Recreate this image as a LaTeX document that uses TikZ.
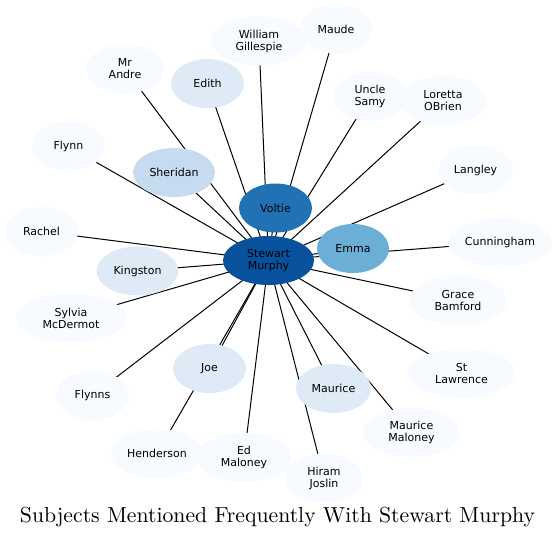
\documentclass[tikz,border=0pt]{standalone}
\usepackage{fontspec}
\newfontfamily\nodefont{DejaVu Sans}
\usetikzlibrary{shapes.geometric,backgrounds}
\definecolor{cvl}{HTML}{F7FBFF}
\definecolor{cl}{HTML}{DEEBF7}
\definecolor{cm}{HTML}{C6DBEF}
\definecolor{cemma}{HTML}{6BAED6}
\definecolor{cvolt}{HTML}{2171B5}
\definecolor{cstew}{HTML}{08519C}
\tikzset{
  bub/.style={ellipse, draw=none, inner sep=0pt, minimum height=49pt, minimum width=73pt,
    font=\nodefont\fontsize{11}{12}\selectfont, align=center, text=black, fill=cvl},
  link/.style={line width=1pt, black},
}
\begin{document}
\begin{tikzpicture}[x=1pt,y=-1pt]
\useasboundingbox (0,0) rectangle (556,539);
\node[bub, fill=cstew, minimum width=91pt] (s) at (268.5,260.5) {Stewart\\Murphy};
\node[bub, fill=cvolt] (voltie) at (275.5,208) {Voltie};
\node[bub, fill=cemma, minimum width=72pt] (emma) at (353,248.5) {Emma};
\node[bub, minimum width=96pt] (william) at (259,41) {William\\Gillespie};
\node[bub, minimum width=72pt] (maude) at (336,29) {Maude};
\node[bub, minimum width=78pt] (andre) at (125,69) {Mr\\Andre};
\node[bub, fill=cl] (edith) at (207.5,83.5) {Edith};
\node[bub, minimum width=74pt] (samy) at (370,96.5) {Uncle\\Samy};
\node[bub, minimum width=86pt] (loretta) at (443,100.5) {Loretta\\OBrien};
\node[bub, minimum width=75pt] (langley) at (475.5,170) {Langley};
\node[bub] (flynn) at (68.5,146.5) {Flynn};
\node[bub, fill=cm, minimum width=82pt] (sheridan) at (174,172.5) {Sheridan};
\node[bub] (rachel) at (41.5,231.5) {Rachel};
\node[bub, fill=cl, minimum width=82pt] (kingston) at (137.5,271) {Kingston};
\node[bub, minimum width=104pt] (cunningham) at (500,242.5) {Cunningham};
\node[bub, minimum width=98pt] (grace) at (458,300.5) {Grace\\Bamford};
\node[bub, minimum width=110pt] (sylvia) at (71,318) {Sylvia\\McDermot};
\node[bub, fill=cl] (joe) at (209.5,368.5) {Joe};
\node[bub] (flynns) at (92.5,395.5) {Flynns};
\node[bub, fill=cl, minimum width=75pt] (maurice) at (333.5,388.5) {Maurice};
\node[bub, minimum width=107pt] (lawrence) at (461.5,373) {St\\Lawrence};
\node[bub, minimum width=92pt] (henderson) at (157,453.5) {Henderson};
\node[bub, minimum width=96pt] (ed) at (244,457.5) {Ed\\Maloney};
\node[bub, minimum width=97pt] (mmaloney) at (411.5,432.5) {Maurice\\Maloney};
\node[bub, minimum width=78pt] (hiram) at (324,478) {Hiram\\Joslin};
\begin{pgfonlayer}{background}
\foreach \n in {voltie,emma,william,maude,andre,edith,samy,loretta,langley,flynn,sheridan,rachel,kingston,cunningham,grace,sylvia,joe,flynns,maurice,lawrence,henderson,ed,mmaloney,hiram}
  \draw[link] (s.center) -- (\n.center);
\end{pgfonlayer}
\node[anchor=base] (title) at (277.5,522) {\resizebox{515pt}{!}{Subjects Mentioned Frequently With Stewart Murphy}};
\end{tikzpicture}
\end{document}
